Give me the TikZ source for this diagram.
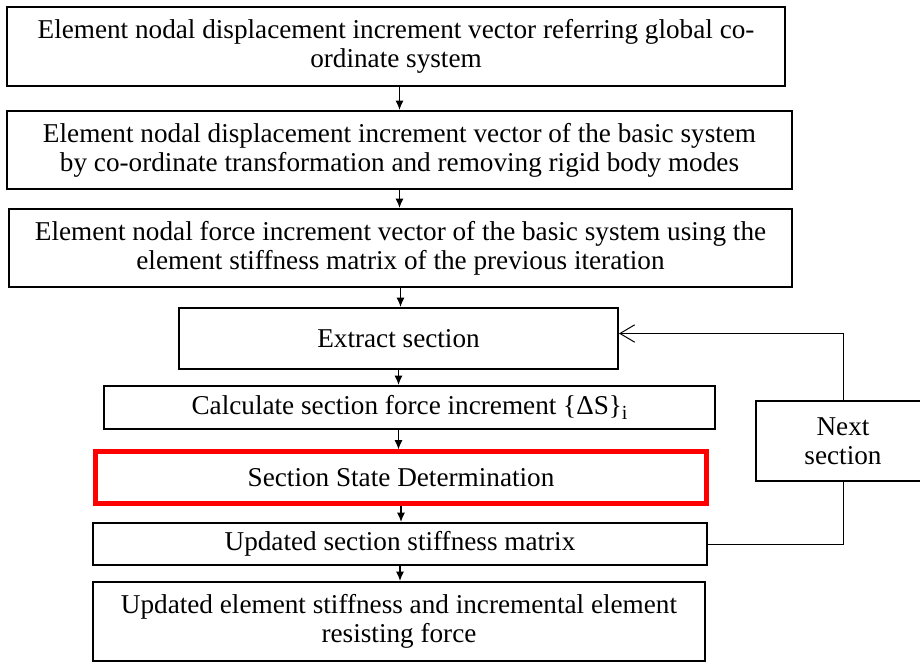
\documentclass[tikz,border=0pt]{standalone}
\usepackage{fontspec}
\setmainfont{Liberation Serif}
\usetikzlibrary{arrows.meta}

\begin{document}
\begin{tikzpicture}[x=0.75pt,y=-0.75pt,
  box/.style={draw,line width=1.5pt,align=center,inner sep=0pt,
    font=\fontsize{20.4}{21.75}\selectfont},
  hot/.style={box,draw=red,line width=3.6pt},
  down/.style={line width=0.9pt,-{Latex[length=7pt,width=6pt]}},
  back/.style={line width=0.75pt}]

  \path[use as bounding box] (0,0) rectangle (920,663);
  \clip (0,0) rectangle (920,663);

  \node[box,minimum width=583.5pt,minimum height=59.25pt] (b1) at (396,46.5)
    {Element nodal displacement increment vector referring global co-\\ordinate system};
  \node[box,minimum width=588.75pt,minimum height=58.5pt] (b2) at (399.5,150)
    {Element nodal displacement increment vector of the basic system\\by co-ordinate transformation and removing rigid body modes};
  \node[box,minimum width=587.25pt,minimum height=58.5pt] (b3) at (400.5,248)
    {Element nodal force increment vector of the basic system using the\\element stiffness matrix of the previous iteration};
  \node[box,minimum width=329.25pt,minimum height=45.75pt] (b4) at (398.5,338.5)
    {Extract section};
  \node[box,minimum width=458.25pt,minimum height=32.25pt] (b5) at (409.5,407.5)
    {Calculate section force increment \{ΔS\}\raisebox{-0.35ex}{\fontsize{15}{15}\selectfont i}};
  \node[hot,minimum width=458pt,minimum height=38.5pt] (b6) at (401,477.5)
    {Section State Determination};
  \node[box,minimum width=460.5pt,minimum height=31.5pt] (b7) at (400,544)
    {Updated section stiffness matrix};
  \node[box,minimum width=459pt,minimum height=59.25pt] (b8) at (399,621.5)
    {Updated element stiffness and incremental element\\resisting force};
  \node[box,minimum width=130.5pt,minimum height=60pt] (nxt) at (843,441)
    {Next\\section};

  \draw[down] (b2.north |- b1.south) -- (b2.north);
  \draw[down] (b2.south) -- (b2.south |- b3.north);
  \draw[down] (b3.south) -- (b3.south |- b4.north);
  \draw[down] (b4.south) -- (b4.south |- b5.north);
  \draw[down] (b4.south |- b5.south) -- (b4.south |- b6.north);
  \draw[down] (b6.south) -- (b6.south |- b7.north);
  \draw[down] (b7.south) -- (b7.south |- b8.north);

  \draw[back] (b7.east) -| (nxt.south);
  \draw[back,-{Straight Barb[length=11pt,width=13pt]}] (nxt.north) |- ([yshift=3.75pt]b4.east);

\end{tikzpicture}
\end{document}
